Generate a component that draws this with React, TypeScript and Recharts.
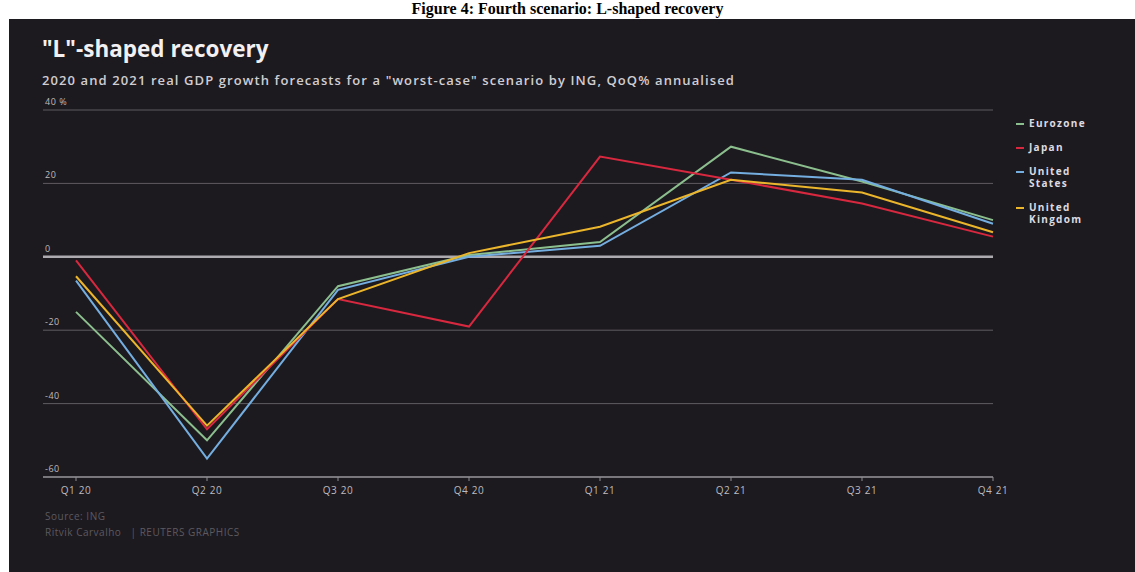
import React from 'react';
import {
  LineChart,
  Line,
  XAxis,
  YAxis,
  CartesianGrid,
  ReferenceLine
} from 'recharts';

const quarters = ['Q1 20', 'Q2 20', 'Q3 20', 'Q4 20', 'Q1 21', 'Q2 21', 'Q3 21', 'Q4 21'];
const eurozone = [-15, -50, -8, 0.5, 4, 30, 20.5, 10];
const japan = [-1, -47, -11.5, -19, 27.3, 21, 14.5, 5.5];
const unitedStates = [-6.5, -55, -9, 0, 3, 23, 21, 9];
const unitedKingdom = [-5.3, -46, -11.5, 1, 8.2, 21, 17.5, 6.7];
const yTicks = [-60, -40, -20, 0, 20, 40];

const series = [
  { key: 'eurozone', name: 'Eurozone', color: '#8cbf8e' },
  { key: 'unitedStates', name: 'United States', color: '#74aee0' },
  { key: 'japan', name: 'Japan', color: '#d8283f' },
  { key: 'unitedKingdom', name: 'United Kingdom', color: '#ebb52c' }
];

const legendOrder = ['Eurozone', 'Japan', 'United States', 'United Kingdom'];

const data = quarters.map((q, i) => ({
  quarter: q,
  eurozone: eurozone[i],
  japan: japan[i],
  unitedStates: unitedStates[i],
  unitedKingdom: unitedKingdom[i]
}));

const FONT = '"Open Sans", "Noto Sans", sans-serif';

// y labels sit above the gridline, at the left edge of the plot
const YTick = (props: any) => {
  const { y, payload } = props;
  const label = payload.value === 40 ? '40 %' : String(payload.value);
  return (
    <text x={45} y={y - 5} fill="#bdbabf" fontSize={9} fontFamily={FONT} letterSpacing={0.5} textAnchor="start">
      {label}
    </text>
  );
};

const XTick = (props: any) => {
  const { x, y, payload } = props;
  return (
    <text x={x} y={y + 11} fill="#bdbabf" fontSize={10} fontFamily={FONT} letterSpacing={0.6} textAnchor="middle">
      {payload.value}
    </text>
  );
};

const LegendBox = () => (
  <div
    style={{
      position: 'absolute',
      left: 1016,
      top: 117,
      fontFamily: FONT,
      fontSize: 10,
      fontWeight: 700,
      letterSpacing: 1.3,
      color: '#dedbe0',
      lineHeight: '12px'
    }}
  >
    {legendOrder.map((name) => {
      const s = series.find((d) => d.name === name)!;
      return (
        <div key={name} style={{ display: 'flex', alignItems: 'flex-start', marginBottom: 12 }}>
          <span style={{ display: 'inline-block', width: 8, height: 2, background: s.color, marginTop: 6, marginRight: 5 }} />
          <span style={{ width: 62, whiteSpace: 'normal' }}>{name}</span>
        </div>
      );
    })}
  </div>
);

export default function App() {
  return (
    <div style={{ position: 'fixed', left: 0, top: 0, width: 1135, height: 572, background: '#ffffff', overflow: 'hidden' }}>
      <div
        style={{
          position: 'absolute',
          left: 0,
          width: 1135,
          top: 0,
          textAlign: 'center',
          fontFamily: '"Liberation Serif", "DejaVu Serif", serif',
          fontWeight: 700,
          fontSize: 16,
          lineHeight: '18px',
          color: '#000'
        }}
      >
        Figure 4: Fourth scenario: L-shaped recovery
      </div>
      <div style={{ position: 'absolute', left: 9, top: 19, width: 1126, height: 553, background: '#1d1a1f' }} />
      <div
        style={{ position: 'absolute', left: 42, top: 33, fontFamily: FONT, fontWeight: 700, fontSize: 22.5, color: '#f2f0f3' }}
      >
        "L"-shaped recovery
      </div>
      <div
        style={{
          position: 'absolute',
          left: 42,
          top: 71,
          fontFamily: FONT,
          fontWeight: 600,
          fontSize: 13,
          letterSpacing: 1.1,
          color: '#d0cdd2',
          whiteSpace: 'nowrap'
        }}
      >
        2020 and 2021 real GDP growth forecasts for a "worst-case" scenario by ING, QoQ% annualised
      </div>
      <div style={{ position: 'absolute', left: 0, top: 0 }}>
        <LineChart
          width={1135}
          height={572}
          data={data}
          margin={{ top: 110, right: 142, left: 42, bottom: 65 }}
        >
          <CartesianGrid horizontal vertical={false} stroke="#5e5b61" strokeWidth={1} />
          <XAxis
            dataKey="quarter"
            height={30}
            padding={{ left: 33, right: 0 }}
            axisLine={{ stroke: '#8f8c92', strokeWidth: 1.5 }}
            tickLine={{ stroke: '#8f8c92' }}
            tickSize={4}
            tick={<XTick />}
            interval={0}
          />
          <YAxis
            width={1}
            domain={[-60, 40]}
            ticks={yTicks}
            axisLine={false}
            tickLine={false}
            tick={<YTick />}
          />
          <ReferenceLine y={0} stroke="#aeabb0" strokeWidth={2.5} />
          {series.map((s) => (
            <Line
              key={s.key}
              type="linear"
              dataKey={s.key}
              name={s.name}
              stroke={s.color}
              strokeWidth={2}
              dot={false}
              isAnimationActive={false}
            />
          ))}
        </LineChart>
      </div>
      <LegendBox />
      <div
        style={{
          position: 'absolute',
          left: 45,
          top: 508,
          fontFamily: FONT,
          fontSize: 10,
          letterSpacing: 0.5,
          color: '#5c595f',
          lineHeight: '16px'
        }}
      >
        <div>Source: ING</div>
        <div>Ritvik Carvalho &nbsp; | REUTERS GRAPHICS</div>
      </div>
    </div>
  );
}
